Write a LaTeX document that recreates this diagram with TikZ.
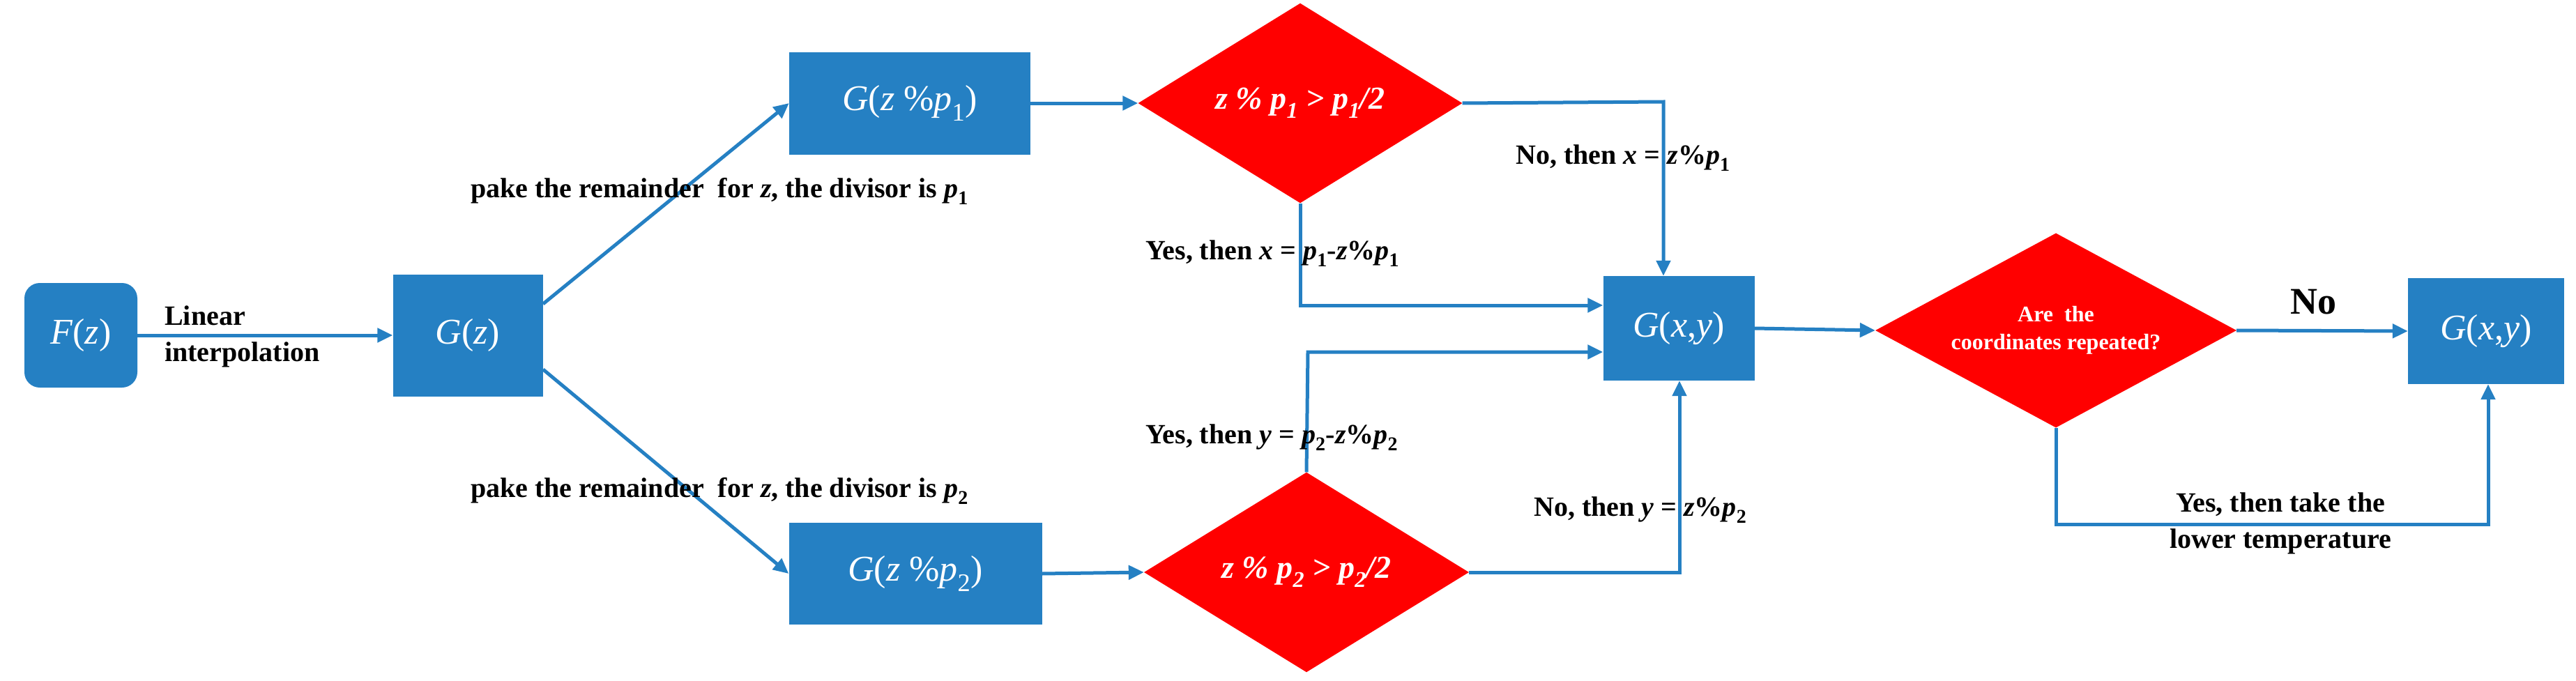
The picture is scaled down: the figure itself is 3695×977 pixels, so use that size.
\documentclass[tikz,border=0pt]{standalone}
\usepackage{fontspec}
\setmainfont{Liberation Serif}
\usetikzlibrary{shapes.geometric,arrows.meta}
\definecolor{bx}{RGB}{37,128,195}
\definecolor{rd}{RGB}{255,0,0}
\begin{document}
\begin{tikzpicture}[x=1pt,y=-1pt,
  box/.style={fill=bx,draw=none,text=white,inner sep=0pt,font=\fontsize{52}{60}\selectfont},
  dia/.style={diamond,fill=rd,draw=none,text=white,inner sep=0pt,font=\fontsize{46}{54}\selectfont\bfseries\itshape},
  lab/.style={font=\fontsize{40}{52}\selectfont\bfseries,inner sep=0pt,align=center},
  ar/.style={draw=bx,line width=5pt,-{Triangle[length=22pt,width=20pt]}},
  ln/.style={draw=bx,line width=5pt}]
\useasboundingbox (0,0) rectangle (3695,977);
\node[box,rounded corners=22pt,minimum width=162pt,minimum height=150pt] (F) at (116,481) {\textit{F}(\textit{z})};
\node[box,minimum width=215pt,minimum height=175pt] (G) at (671,481) {\textit{G}(\textit{z})};
\node[box,minimum width=346pt,minimum height=147pt] (G1) at (1305,148) {\textit{G}(\textit{z} \%\textit{p}\textsubscript{1})};
\node[box,minimum width=363pt,minimum height=146pt] (G2) at (1313,823) {\textit{G}(\textit{z} \%\textit{p}\textsubscript{2})};
\node[dia,minimum width=465pt,minimum height=247pt] (D1) at (1865,148) {z \% p\textsubscript{1} > p\textsubscript{1}/2};
\node[dia,minimum width=466pt,minimum height=252pt] (D2) at (1874,821) {z \% p\textsubscript{2} > p\textsubscript{2}/2};
\node[box,minimum width=217pt,minimum height=150pt] (GX) at (2408,471) {\textit{G}(\textit{x},\textit{y})};
\node[dia,shape aspect=1.86,minimum width=518pt,minimum height=279pt,font=\fontsize{32}{40}\selectfont\bfseries,align=center] (D3) at (2949,474) {Are\ \ the\\coordinates repeated?};
\node[box,minimum width=224pt,minimum height=152pt] (GR) at (3566,475) {\textit{G}(\textit{x},\textit{y})};
\coordinate (c1) at (2386,146);
\coordinate (c2) at (1865,438);
\coordinate (c3) at (1876,505);
\coordinate (c4) at (2409,821);
\coordinate (c5) at (2949,752);
\coordinate (c6) at (3569,752);
\coordinate (g1) at (779,436);
\coordinate (g2) at (779,530);
\draw[ar] (F.east) -- (G.west);
\draw[ar] (g1) -- (G1.west);
\draw[ar] (g2) -- (G2.west);
\draw[ar] (G1.east) -- (D1.west);
\draw[ar] (G2.east) -- (D2.west);
\draw[ar] (D1.east) -- (c1) -- (GX.north -| c1);
\draw[ar] (D1.south) -- (c2) -- (c2 -| GX.west);
\draw[ar] (D2.north) -- (c3) -- (c3 -| GX.west);
\draw[ar] (D2.east) -- (c4) -- (GX.south -| c4);
\draw[ar] (GX.east) -- (D3.west);
\draw[ar] (D3.east) -- (GR.west);
\draw[ar] (D3.south) -- (c5) -- (c6) -- (GR.south -| c6);
\node[lab,align=left,anchor=west] (L1) at (236,483) {Linear\\interpolation};
\node[lab] (T1) at (1032,274) {pake the remainder\ \ for \textit{z}, the divisor is \textit{p}\textsubscript{1}};
\node[lab] (T2) at (1032,704) {pake the remainder\ \ for \textit{z}, the divisor is \textit{p}\textsubscript{2}};
\node[lab,anchor=west] (Y1) at (1643,364) {Yes, then \textit{x} = \textit{p}\textsubscript{1}-\textit{z}\%\textit{p}\textsubscript{1}};
\node[lab,anchor=west] (Y2) at (1643,628) {Yes, then \textit{y} = \textit{p}\textsubscript{2}-\textit{z}\%\textit{p}\textsubscript{2}};
\node[lab,anchor=west] (N1) at (2174,227) {No, then \textit{x} = \textit{z}\%\textit{p}\textsubscript{1}};
\node[lab,anchor=west] (N2) at (2200,732) {No, then \textit{y} = \textit{z}\%\textit{p}\textsubscript{2}};
\node[lab,font=\fontsize{54}{60}\selectfont\bfseries] (NO) at (3318,433) {No};
\node[lab,align=center] (YT) at (3271,751) {Yes, then take the\\lower temperature};
\end{tikzpicture}
\end{document}
